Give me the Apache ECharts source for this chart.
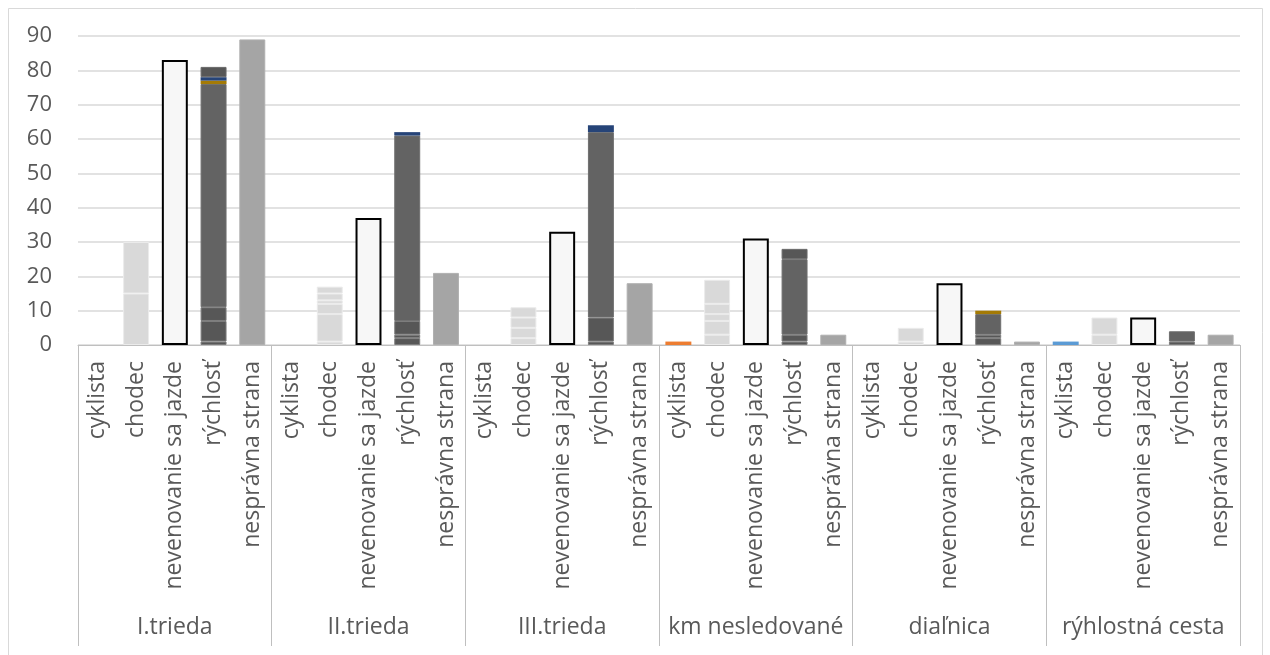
<!DOCTYPE html>
<html>
<head>
<meta charset="utf-8">
<script src="https://cdn.jsdelivr.net/npm/echarts@6/dist/echarts.min.js"></script>
<style>
  html, body { margin: 0; padding: 0; background: #ffffff; }
  #chart { width: 1270px; height: 655px; }
</style>
</head>
<body>
<div id="chart"></div>
<script>
// Road class groups and the accident causes shown under each of them
const groups = ['I.trieda', 'II.trieda', 'III.trieda', 'km nesledované', 'diaľnica', 'rýhlostná cesta'];
const kinds = ['cyklista', 'chodec', 'nevenovanie sa jazde', 'rýchlosť', 'nesprávna strana'];
const yTicks = [0, 10, 20, 30, 40, 50, 60, 70, 80, 90];

// values per group (same order as groups)
const cyklista = [0, 0, 0, 1, 0, 1];
const chodec = [[15, 15], [1, 8, 3, 1, 2, 2], [2, 3, 3, 3], [3, 4, 2, 3, 7], [1, 4], [3, 5]];
const nevenovanie = [83, 37, 33, 31, 18, 8];
const rychlostDolne = [[1, 6, 4], [2, 1, 4], [1, 7], [1, 2], [2, 1], [1]];
const rychlostStred = [65, 54, 54, 22, 6, 3];
const rychlostZlta = [1, 0, 0, 0, 1, 0];
const rychlostModra = [1, 1, 2, 0, 0, 0];
const rychlostHorna = [3, 0, 0, 3, 0, 0];
const nespravna = [89, 21, 18, 3, 1, 3];

const cyklistaColors = ['#5b9bd5', '#5b9bd5', '#5b9bd5', '#ed7d31', '#5b9bd5', '#5b9bd5'];

const FONT = '"Open Sans", "Liberation Sans", sans-serif';
const TEXT = '#595959';

const nCat = groups.length * kinds.length;
const catKeys = [];
groups.forEach((g, gi) => kinds.forEach((k, ki) => catKeys.push(gi + '|' + ki)));

// builds one stacked layer: value v placed at kind slot k of every group
function layer(k, values, style) {
  const data = new Array(nCat).fill(null);
  values.forEach((v, gi) => {
    if (v != null && v !== 0) data[gi * kinds.length + k] = v;
  });
  return {
    type: 'bar',
    stack: 'spolu',
    data: data,
    itemStyle: style,
    barCategoryGap: '33%',
    silent: true
  };
}

const series = [];

// cyklista (colour per group)
(function () {
  const data = new Array(nCat).fill(null);
  cyklista.forEach((v, gi) => {
    if (v) data[gi * kinds.length] = { value: v, itemStyle: { color: cyklistaColors[gi] } };
  });
  series.push({ type: 'bar', stack: 'spolu', data: data, barCategoryGap: '33%', silent: true });
})();

// chodec layers
const chodecDepth = Math.max(...chodec.map(a => a.length));
for (let L = 0; L < chodecDepth; L++) {
  series.push(layer(1, chodec.map(a => a[L]), { color: '#d9d9d9', borderColor: '#ebebeb', borderWidth: 1 }));
}

// nevenovanie sa jazde
series.push(layer(2, nevenovanie, { color: '#f7f7f7', borderColor: '#000000', borderWidth: 2 }));

// rýchlosť
const dolneDepth = Math.max(...rychlostDolne.map(a => a.length));
for (let L = 0; L < dolneDepth; L++) {
  series.push(layer(3, rychlostDolne.map(a => a[L]), { color: '#575757', borderColor: '#7c7c7c', borderWidth: 1 }));
}
series.push(layer(3, rychlostStred, { color: '#636363', borderColor: '#6f6f6f', borderWidth: 1 }));
series.push(layer(3, rychlostZlta, { color: '#a47a05' }));
series.push(layer(3, rychlostModra, { color: '#264478' }));
series.push(layer(3, rychlostHorna, { color: '#575757', borderColor: '#6a6a6a', borderWidth: 1 }));

// nesprávna strana
series.push(layer(4, nespravna, { color: '#a5a5a5', borderColor: '#b0b0b0', borderWidth: 1 }));

const chart = echarts.init(document.getElementById('chart'), null, { renderer: 'canvas' });
chart.setOption({
  animation: false,
  backgroundColor: '#ffffff',
  textStyle: { fontFamily: FONT },
  grid: { left: 78, right: 30, top: 36, bottom: 310, containLabel: false },
  graphic: [{
    type: 'rect',
    shape: { x: 8.5, y: 8.5, width: 1254, height: 700 },
    style: { fill: 'none', stroke: '#d9d9d9', lineWidth: 1 },
    silent: true,
    z: -10
  }],
  xAxis: [{
    type: 'category',
    data: catKeys,
    axisLine: { show: true, lineStyle: { color: '#bfbfbf', width: 1 } },
    axisTick: { show: false },
    axisLabel: {
      interval: 0,
      rotate: 90,
      margin: 16,
      fontSize: 23,
      color: TEXT,
      fontFamily: FONT,
      formatter: key => kinds[+key.split('|')[1]]
    },
    splitLine: { show: false }
  }, {
    type: 'category',
    data: groups,
    position: 'bottom',
    axisLine: { show: false },
    axisTick: { show: true, length: 301, lineStyle: { color: '#bfbfbf', width: 1 } },
    axisLabel: { interval: 0, margin: 271, fontSize: 23, color: TEXT, fontFamily: FONT },
    splitLine: { show: false }
  }],
  yAxis: {
    type: 'value',
    min: yTicks[0],
    max: yTicks[yTicks.length - 1],
    interval: yTicks[1] - yTicks[0],
    axisLine: { show: false },
    axisTick: { show: false },
    axisLabel: { margin: 26, fontSize: 22, color: TEXT, fontFamily: FONT },
    splitLine: { lineStyle: { color: '#d9d9d9', width: 1.5 } }
  },
  series: series
});
</script>
</body>
</html>
